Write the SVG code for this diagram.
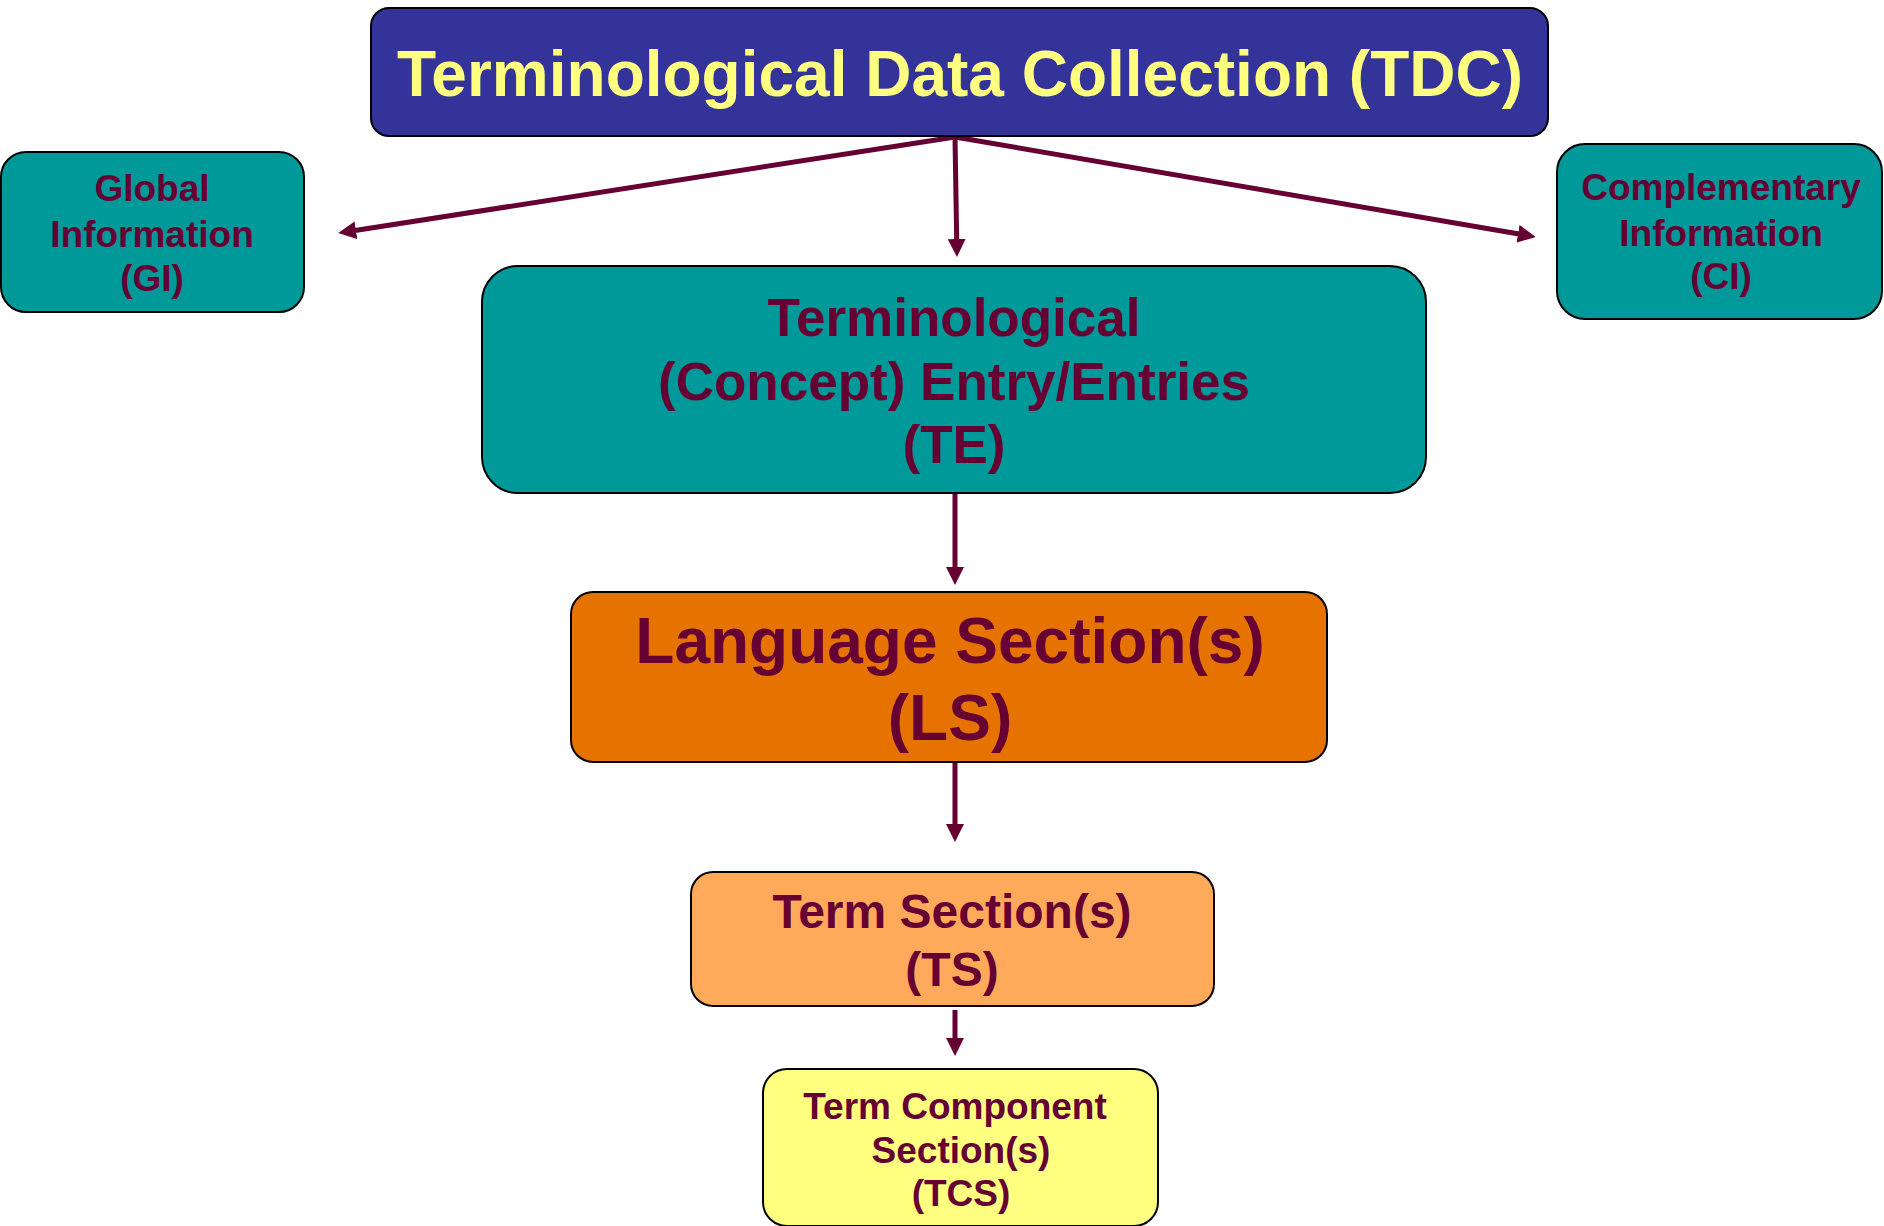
<svg xmlns="http://www.w3.org/2000/svg" width="1884" height="1226" viewBox="0 0 1884 1226">
<style>
.box{stroke:#000;stroke-width:2}
.t{font-family:"Liberation Sans",Arial,sans-serif;font-weight:bold;text-anchor:middle;fill:#660033}
.conn{stroke:#660033;stroke-width:5;fill:none;marker-end:url(#ah)}
</style>
<defs>
<marker id="ah" markerUnits="userSpaceOnUse" markerWidth="19" markerHeight="18" refX="1" refY="9" orient="auto">
<path d="M0,0 L18,9 L0,18 z" fill="#660033"/>
</marker>
</defs>
<rect width="1884" height="1226" fill="#fff"/>
<g id="connectors">
<line class="conn" x1="955" y1="137" x2="355" y2="230.5"/>
<line class="conn" x1="955" y1="137" x2="956.7" y2="240"/>
<line class="conn" x1="955" y1="137" x2="1519" y2="234"/>
<line class="conn" x1="955" y1="493" x2="955" y2="568"/>
<line class="conn" x1="955" y1="762" x2="955" y2="825"/>
<line class="conn" x1="955" y1="1010" x2="955" y2="1039"/>
</g>
<g id="tdc">
<rect class="box" x="371" y="8" width="1177" height="128" rx="18" fill="#333399"/>
<text class="t" x="960" y="96" font-size="64" style="fill:#FFFF80">Terminological Data Collection (TDC)</text>
</g>
<g id="gi">
<rect class="box" x="1" y="152" width="303" height="160" rx="25" fill="#009999"/>
<text class="t" font-size="37"><tspan x="152" y="201">Global</tspan><tspan x="152" y="247">Information</tspan><tspan x="152" y="291">(GI)</tspan></text>
</g>
<g id="ci">
<rect class="box" x="1557" y="144" width="325" height="175" rx="28" fill="#009999"/>
<text class="t" font-size="37"><tspan x="1721" y="200">Complementary</tspan><tspan x="1721" y="246">Information</tspan><tspan x="1721" y="289">(CI)</tspan></text>
</g>
<g id="te">
<rect class="box" x="482" y="266" width="944" height="227" rx="36" fill="#009999"/>
<text class="t" font-size="53"><tspan x="954" y="336">Terminological</tspan><tspan x="954" y="400">(Concept) Entry/Entries</tspan><tspan x="954" y="463">(TE)</tspan></text>
</g>
<g id="ls">
<rect class="box" x="571" y="592" width="756" height="170" rx="22" fill="#E67300"/>
<text class="t" font-size="64"><tspan x="950" y="663">Language Section(s)</tspan><tspan x="950" y="740">(LS)</tspan></text>
</g>
<g id="ts">
<rect class="box" x="691" y="872" width="523" height="134" rx="22" fill="#FFAA5A"/>
<text class="t" font-size="48"><tspan x="952" y="928">Term Section(s)</tspan><tspan x="952" y="986">(TS)</tspan></text>
</g>
<g id="tcs">
<rect class="box" x="763" y="1069" width="395" height="157" rx="24" fill="#FFFF80"/>
<text class="t" font-size="37"><tspan x="955" y="1119">Term Component</tspan><tspan x="961" y="1163">Section(s)</tspan><tspan x="961" y="1206">(TCS)</tspan></text>
</g>
</svg>
